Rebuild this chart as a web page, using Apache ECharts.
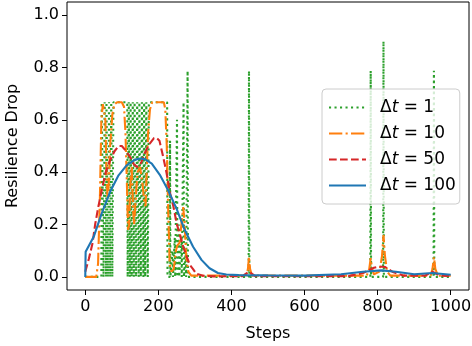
<!DOCTYPE html>
<html><head><meta charset="utf-8">
<script src="https://cdn.jsdelivr.net/npm/echarts@6/dist/echarts.min.js"></script>
<style>html,body{margin:0;padding:0;background:#fff}#c{width:472px;height:346px}</style>
</head><body><div id="c"></div>
<script>
const xTicks = [0, 200, 400, 600, 800, 1000];
const yTicks = [0, 0.2, 0.4, 0.6, 0.8, 1.0];
const legendNames = ['1', '10', '50', '100'];
const xLabel = 'Steps';
const yLabel = 'Resilience Drop';

// Δt = 1 : [step, drop]
const dt1 = [[0,0],[44,0],[45,0.667],[49,0.667],[50,0],[52,0],[53,0.667],[56,0.667],[57,0],[58,0.667],[61,0.667],[62,0],[64,0],[65,0.667],[67,0.667],[68,0],[70,0],[71,0.667],[73,0.667],[74,0],[76,0],[77,0.667],[115,0.667],[116,0],[118,0],[119,0.667],[121,0.667],[122,0],[124,0.667],[126,0.667],[127,0],[129,0],[130,0.667],[132,0.667],[133,0],[135,0.667],[138,0.667],[139,0],[141,0],[142,0.667],[145,0.667],[146,0],[148,0.667],[151,0.667],[152,0],[154,0],[155,0.667],[158,0.667],[159,0],[161,0.667],[163,0.667],[164,0],[166,0],[167,0.667],[170,0.667],[171,0],[173,0],[174,0.667],[224,0.667],[225,0],[231,0],[232,0.52],[233,0],[238,0],[239,0.1],[240,0],[244,0],[245,0.15],[246,0],[250,0],[251,0.6],[252,0],[255,0],[256,0.2],[257,0],[262,0],[263,0.15],[264,0],[268,0],[269,0.667],[270,0],[274,0],[275,0.1],[276,0],[279,0],[280,0.787],[281,0],[447,0],[448,0.787],[449,0],[780,0],[781,0.787],[782,0],[815,0],[816,0.9],[817,0],[953,0],[954,0.787],[955,0],[1000,0]];
// Δt = 10
const dt10 = [[0,0],[30,0],[35,0.05],[40,0.3],[44,0.6],[48,0.66],[52,0.667],[55,0.6],[58,0.4],[61,0.3],[64,0.35],[68,0.5],[74,0.62],[80,0.66],[87,0.667],[100,0.667],[106,0.65],[110,0.55],[114,0.35],[117,0.18],[120,0.2],[123,0.35],[127,0.42],[131,0.25],[134,0.2],[138,0.3],[143,0.4],[150,0.42],[157,0.35],[162,0.28],[165,0.27],[168,0.4],[172,0.55],[177,0.64],[183,0.667],[215,0.667],[219,0.64],[223,0.5],[227,0.25],[231,0.05],[236,0.02],[242,0.03],[248,0.1],[252,0.12],[258,0.13],[263,0.2],[268,0.267],[272,0.2],[276,0.08],[282,0.02],[290,0.005],[440,0.005],[445,0.03],[448,0.077],[451,0.03],[456,0.005],[770,0.005],[777,0.03],[781,0.072],[785,0.03],[790,0.01],[805,0.02],[812,0.08],[816,0.16],[820,0.08],[826,0.02],[835,0.005],[945,0.005],[950,0.03],[954,0.075],[958,0.03],[965,0.005],[1000,0.005]];
// Δt = 50
const dt50 = [[0,0.02],[10,0.07],[20,0.13],[27,0.2],[36,0.27],[45,0.33],[56,0.4],[68,0.445],[80,0.48],[91,0.5],[100,0.5],[112,0.48],[123,0.457],[133,0.43],[141,0.42],[148,0.425],[154,0.44],[165,0.48],[177,0.51],[188,0.53],[195,0.531],[203,0.52],[213,0.46],[222,0.4],[232,0.32],[241,0.27],[250,0.205],[259,0.16],[268,0.115],[277,0.08],[286,0.046],[295,0.03],[304,0.012],[320,0.005],[350,0.002],[430,0.003],[448,0.02],[465,0.003],[720,0.003],[760,0.015],[790,0.035],[805,0.04],[820,0.038],[840,0.02],[870,0.005],[930,0.005],[950,0.02],[970,0.005],[1000,0.003]];
// Δt = 100
const dt100 = [[0,0],[1,0.096],[23,0.153],[45,0.243],[68,0.325],[91,0.388],[113,0.426],[135,0.447],[150,0.452],[163,0.45],[182,0.433],[204,0.39],[227,0.33],[250,0.26],[272,0.18],[295,0.115],[318,0.065],[340,0.033],[363,0.015],[386,0.009],[420,0.007],[500,0.006],[600,0.005],[700,0.01],[760,0.02],[810,0.025],[850,0.02],[900,0.01],[950,0.015],[1000,0.008]];

const colors = ['#2ca02c', '#ff7f0e', '#d62728', '#1f77b4'];
const dashes = [[2.1, 3.4], [13.3, 3.3, 2.1, 3.3], [7.7, 3.3], null];
const datas = [dt1, dt10, dt50, dt100];

const chart = echarts.init(document.getElementById('c'), null, {renderer: 'canvas'});
const font = 'DejaVu Sans';
const series = datas.map((d, i) => ({
  name: legendNames[i],
  type: 'line',
  data: d,
  symbol: 'none',
  animation: false,
  lineStyle: {color: colors[i], width: 2.1, type: dashes[i] || 'solid', cap: 'butt'},
  itemStyle: {color: colors[i]}
}));

chart.setOption({
  animation: false,
  backgroundColor: '#fff',
  grid: {left: 67, right: 3, top: 2, bottom: 56, show: true, borderColor: '#000', borderWidth: 1, backgroundColor: 'transparent', outerBoundsMode: 'none', containLabel: false},
  xAxis: {
    type: 'value', min: -50, max: 1050,
    name: xLabel, nameLocation: 'middle', nameGap: 36,
    nameTextStyle: {fontFamily: font, fontSize: 16, color: '#000'},
    axisLine: {show: false, onZero: false},
    splitLine: {show: false},
    axisTick: {show: true, inside: false, length: 5, lineStyle: {color: '#000', width: 1}, customValues: xTicks},
    axisLabel: {customValues: xTicks, fontFamily: font, fontSize: 16, color: '#000', margin: 9, formatter: v => String(v)}
  },
  yAxis: {
    type: 'value', min: -0.05, max: 1.05,
    name: yLabel, nameLocation: 'middle', nameGap: 46, nameRotate: 90,
    nameTextStyle: {fontFamily: font, fontSize: 16, color: '#000'},
    axisLine: {show: false, onZero: false},
    splitLine: {show: false},
    axisTick: {show: true, inside: false, length: 5, lineStyle: {color: '#000', width: 1}, customValues: yTicks},
    axisLabel: {customValues: yTicks, fontFamily: font, fontSize: 16, color: '#000', margin: 8, formatter: v => v.toFixed(1)}
  },
  legend: {
    orient: 'vertical', left: 322, top: 89,
    data: legendNames,
    itemWidth: 37, itemHeight: 14, itemGap: 9,
    padding: [10, 4, 10, 6],
    backgroundColor: 'rgba(255,255,255,0.8)', borderColor: '#cccccc', borderWidth: 1, borderRadius: 4,
    itemStyle: {opacity: 0, color: 'rgba(0,0,0,0)', borderWidth: 0},
    formatter: n => '{a|Δ}{b|t}{a| = ' + n + '}',
    textStyle: {
      fontFamily: font, fontSize: 17, color: '#000', padding: [0, 0, 0, 9],
      rich: {a: {fontFamily: font, fontSize: 17, color: '#000'}, b: {fontFamily: font, fontSize: 17, fontStyle: 'italic', color: '#000'}}
    }
  },
  series: series
});
</script>
</body></html>
